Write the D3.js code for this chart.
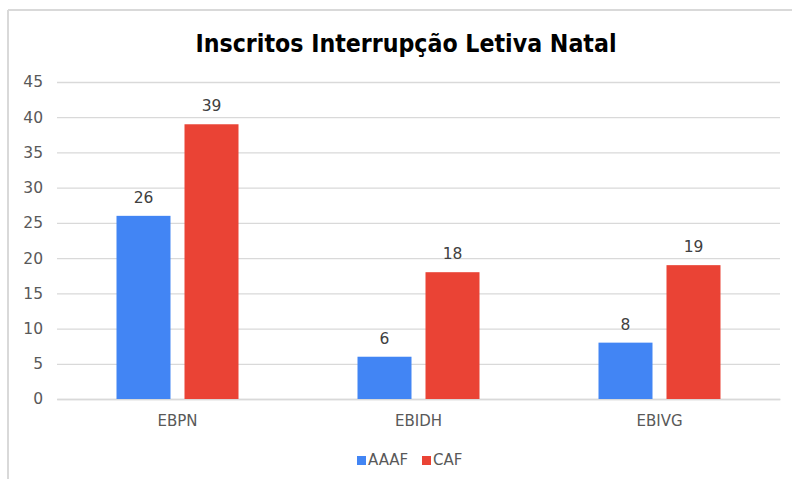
<!DOCTYPE html>
<html><head><meta charset="utf-8">
<script src="https://cdn.jsdelivr.net/npm/d3@7"></script>
<style>body{margin:0;background:#fff;} svg{display:block;}</style>
</head><body>
<script>
const categories = ["EBPN", "EBIDH", "EBIVG"];
const seriesNames = ["AAAF", "CAF"];
const aaaf = [26, 6, 8];
const caf = [39, 18, 19];
const yTicks = [0, 5, 10, 15, 20, 25, 30, 35, 40, 45];
const colors = ["#4285F4", "#EA4335"];
const title = "Inscritos Interrupção Letiva Natal";

(function () {
const W = 792, H = 479;
const svg = d3.select("body").append("svg").attr("width", W).attr("height", H);
svg.append("rect").attr("width", W).attr("height", H).attr("fill", "#fff");
// frame
svg.append("line").attr("x1", 8).attr("x2", 8).attr("y1", 10).attr("y2", H).attr("stroke", "#d9d9d9").attr("stroke-width", 2);
svg.append("line").attr("x1", 8).attr("x2", W).attr("y1", 10).attr("y2", 10).attr("stroke", "#d9d9d9").attr("stroke-width", 2);

const pLeft = 57, pRight = 780, pTop = 82, pBottom = 399;
const x = d3.scaleBand().domain(categories).range([pLeft, pRight]).paddingInner(0).paddingOuter(0);
const y = d3.scaleLinear().domain([0, 45]).range([pBottom, pTop]);
const x1 = d3.scaleBand().domain(seriesNames).range([0, 122]).paddingInner(14/68);

const font = "Verdana, 'DejaVu Sans', sans-serif";

svg.append("text").attr("x", 406).attr("y", 52).attr("text-anchor", "middle")
  .attr("font-family", font).attr("font-weight", "bold").attr("font-size", 24)
  .attr("fill", "#000").attr("textLength", 421).attr("lengthAdjust", "spacingAndGlyphs").text(title);

// grid
const yAxis = d3.axisLeft(y).tickValues(yTicks).tickSize(-(pRight - pLeft)).tickPadding(14);
const gy = svg.append("g").attr("transform", `translate(${pLeft},0)`).call(yAxis);
gy.select(".domain").remove();
gy.selectAll(".tick line").attr("stroke", "#d9d9d9").attr("stroke-width", 1.3);
gy.selectAll(".tick text").attr("font-family", font).attr("font-size", 15.5).attr("fill", "#595959");

const xAxis = d3.axisBottom(x).tickSize(0).tickPadding(16);
const gx = svg.append("g").attr("transform", `translate(0,${pBottom})`).call(xAxis);
gx.select(".domain").attr("stroke", "#d9d9d9").attr("stroke-width", 1.5);
gx.selectAll(".tick text").attr("font-family", font).attr("font-size", 15).attr("fill", "#595959");

const data = categories.map((c, i) => ({cat: c, vals: [aaaf[i], caf[i]]}));
const groups = svg.selectAll("g.grp").data(data).join("g").attr("class", "grp")
  .attr("transform", d => `translate(${x(d.cat) + (x.bandwidth() - 122) / 2},0)`);
groups.selectAll("rect").data(d => d.vals.map((v, j) => ({s: seriesNames[j], v, j})))
  .join("rect")
  .attr("x", d => x1(d.s)).attr("width", x1.bandwidth())
  .attr("y", d => y(d.v)).attr("height", d => pBottom - y(d.v))
  .attr("fill", d => colors[d.j]);
groups.selectAll("text.lbl").data(d => d.vals.map((v, j) => ({s: seriesNames[j], v, j})))
  .join("text").attr("class", "lbl")
  .attr("x", d => x1(d.s) + x1.bandwidth() / 2).attr("y", d => y(d.v) - 13)
  .attr("text-anchor", "middle").attr("font-family", font).attr("font-size", 15.5)
  .attr("fill", "#404040").text(d => d.v);

// legend
const leg = svg.append("g").attr("transform", "translate(357,460)");
const legX = [0, 65];
seriesNames.forEach((s, i) => {
  leg.append("rect").attr("x", legX[i]).attr("y", -4).attr("width", 9).attr("height", 9).attr("fill", colors[i]);
  leg.append("text").attr("x", legX[i] + 11).attr("y", 5).attr("font-family", font).attr("font-size", 15)
    .attr("fill", "#595959").text(s);
});
})();
</script>
</body></html>
